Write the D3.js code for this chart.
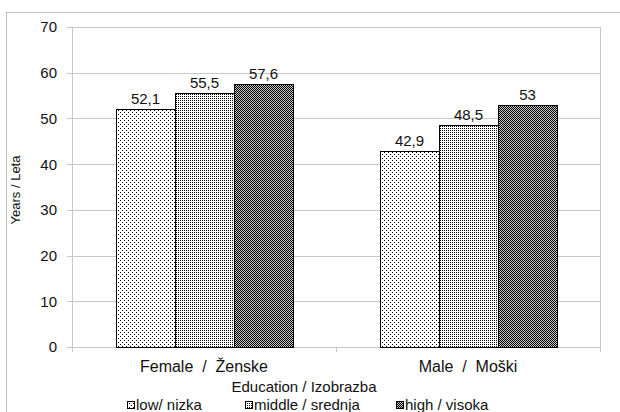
<!DOCTYPE html>
<html>
<head>
<meta charset="UTF-8">
<script src="https://d3js.org/d3.v7.min.js"></script>
<style>
  body { margin: 0; background: #fff; }
  svg { display: block; font-family: "Liberation Sans", Arial, sans-serif; }
  .grid line, .plotline { stroke: #c8c8c8; stroke-width: 1px; shape-rendering: crispEdges; }
  .bar { stroke: #000; stroke-width: 1px; shape-rendering: crispEdges; }
  text { fill: #111; }
</style>
</head>
<body>
<svg id="chart"></svg>
<script>
// data
const categories = ["Female  /  Ženske", "Male  /  Moški"];
const series = ["low / nizka", "middle / srednja", "high / visoka"];
const legendLabels = ["low/ nizka", "middle / srednja", "high / visoka"];
const low = [52.1, 42.9];
const middle = [55.5, 48.5];
const high = [57.6, 53];
const yTicks = [0, 10, 20, 30, 40, 50, 60, 70];

const values = [low, middle, high];
const rows = categories.map((c, i) => ({
  cat: c,
  vals: series.map((s, j) => ({ key: s, idx: j, v: values[j][i] }))
}));

const W = 620, H = 412;
const plot = { left: 72, right: 600, top: 27, bottom: 347 };

const svg = d3.select("#chart").attr("width", W).attr("height", H);

// patterns (pixel dot fills)
const defs = svg.append("defs");
function pattern(id, size, dots, bg) {
  const p = defs.append("pattern").attr("id", id)
    .attr("patternUnits", "userSpaceOnUse")
    .attr("width", size).attr("height", size);
  p.append("rect").attr("width", size).attr("height", size).attr("fill", bg);
  dots.forEach(d => p.append("rect").attr("x", d[0]).attr("y", d[1])
    .attr("width", 1).attr("height", 1).attr("fill", "#000"));
}
pattern("p0", 4, [[0, 0], [2, 2]], "#fff");
pattern("p1", 2, [[0, 0]], "#fff");
pattern("p2", 2, [[0, 0], [1, 1]], "#c4c4c4");
const fills = ["url(#p0)", "url(#p1)", "url(#p2)"];

// outer frame
svg.append("path").attr("class", "plotline")
  .attr("d", `M6.5,${H}V12.5H${W}`).attr("fill", "none").style("stroke", "#c0c0c0");

const y = d3.scaleLinear().domain([0, 70]).range([plot.bottom, plot.top]);
const x0 = d3.scaleBand().domain(categories).range([plot.left, plot.right]);
const x1 = d3.scaleBand().domain(series).range([44, x0.bandwidth() - 43]);

// gridlines + y ticks
svg.append("g").attr("class", "grid")
  .selectAll("line").data(yTicks).join("line")
  .attr("x1", plot.left - 5).attr("x2", plot.right)
  .attr("y1", d => Math.round(y(d)) + 0.5).attr("y2", d => Math.round(y(d)) + 0.5);

// right border
svg.append("line").attr("class", "plotline")
  .attr("x1", plot.right + 0.5).attr("x2", plot.right + 0.5)
  .attr("y1", plot.top).attr("y2", plot.bottom + 5);
// y axis line
svg.append("line").attr("class", "plotline")
  .attr("x1", plot.left + 0.5).attr("x2", plot.left + 0.5)
  .attr("y1", plot.top).attr("y2", plot.bottom + 5);
// x tick at category boundary
svg.append("line").attr("class", "plotline")
  .attr("x1", plot.left + x0.bandwidth() + 0.5).attr("x2", plot.left + x0.bandwidth() + 0.5)
  .attr("y1", plot.bottom).attr("y2", plot.bottom + 5);

// y tick labels
svg.append("g").selectAll("text").data(yTicks).join("text")
  .attr("x", 57).attr("y", d => y(d)).attr("dy", "0.36em")
  .attr("text-anchor", "end").style("font-size", "15px")
  .text(d => d);

// bars
const groups = svg.append("g").selectAll("g").data(rows).join("g")
  .attr("transform", d => `translate(${x0(d.cat)},0)`);

groups.selectAll("rect").data(d => d.vals).join("rect")
  .attr("class", "bar")
  .attr("x", d => Math.round(x1(d.key)) + 0.5)
  .attr("y", d => Math.round(y(d.v)) + 0.5)
  .attr("width", Math.round(x1.bandwidth()))
  .attr("height", d => plot.bottom - Math.round(y(d.v)))
  .attr("fill", d => fills[d.idx]);

groups.selectAll("text").data(d => d.vals).join("text")
  .attr("x", d => x1(d.key) + x1.bandwidth() / 2)
  .attr("y", d => y(d.v) - 5)
  .attr("text-anchor", "middle").style("font-size", "15px")
  .text(d => String(d.v).replace(".", ","));

// category labels
svg.append("g").selectAll("text").data(categories).join("text")
  .attr("x", d => x0(d) + x0.bandwidth() / 2).attr("y", 372)
  .attr("text-anchor", "middle").style("font-size", "16px")
  .style("white-space", "pre")
  .text(d => d);

// axis title
svg.append("text").attr("x", 304).attr("y", 392)
  .attr("text-anchor", "middle").style("font-size", "15px")
  .text("Education / Izobrazba");

svg.append("text")
  .attr("transform", `translate(20,${(plot.top + plot.bottom) / 2 + 3}) rotate(-90)`)
  .attr("text-anchor", "middle").style("font-size", "13px")
  .text("Years / Leta");

// legend
const legendX = [127, 245, 396];
const leg = svg.append("g").selectAll("g").data(legendLabels).join("g")
  .attr("transform", (d, i) => `translate(${legendX[i]},401)`);
leg.append("rect").attr("x", 0.5).attr("y", 0.5).attr("width", 7).attr("height", 7)
  .attr("fill", (d, i) => fills[i]).attr("stroke", "#000").style("shape-rendering", "crispEdges");
leg.append("text").attr("x", 9).attr("y", 9).style("font-size", "15px").text(d => d);
</script>
</body>
</html>
